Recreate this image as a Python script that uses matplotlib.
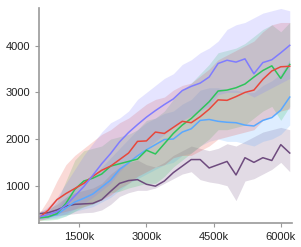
import matplotlib
matplotlib.use("Agg")
import matplotlib.pyplot as plt
import numpy as np

# steps (thousands)
steps = [600, 800, 1000, 1200, 1400, 1600, 1800, 2000, 2200, 2400, 2600, 2800, 3000, 3200, 3400,
         3600, 3800, 4000, 4200, 4400, 4600, 4800, 5000, 5200, 5400, 5600, 5800, 6000, 6200]

# mean returns
violet = [330, 380, 440, 580, 780, 980, 1220, 1470, 1690, 1940, 2140, 2310, 2470, 2610, 2740,
          2860, 3040, 3130, 3200, 3330, 3620, 3690, 3650, 3720, 3400, 3640, 3700, 3850, 4010]
red = [310, 470, 700, 830, 940, 1050, 1200, 1330, 1420, 1560, 1700, 1950, 1960, 2150, 2120,
       2250, 2380, 2350, 2480, 2640, 2840, 2830, 2910, 3000, 3050, 3280, 3460, 3550, 3560]
green = [310, 330, 400, 620, 920, 1100, 1160, 1250, 1420, 1470, 1520, 1570, 1760, 1680, 1900,
         2120, 2300, 2440, 2620, 2800, 3030, 3050, 3100, 3180, 3330, 3470, 3570, 3300, 3600]
skyblue = [310, 330, 380, 520, 650, 730, 820, 970, 1120, 1350, 1490, 1640, 1770, 1880, 1990,
           2000, 2150, 2220, 2400, 2420, 2380, 2360, 2350, 2300, 2280, 2400, 2460, 2620, 2900]
plum = [400, 420, 480, 560, 600, 610, 620, 700, 880, 1050, 1110, 1130, 1030, 990, 1100,
        1280, 1420, 1560, 1560, 1380, 1450, 1520, 1230, 1600, 1500, 1600, 1540, 1880, 1700]

# lower / upper of shaded regions
violet_lo = [280, 300, 330, 400, 500, 620, 750, 900, 1050, 1300, 1500, 1650, 1800, 1950, 2100,
             2250, 2400, 2500, 2600, 2700, 2950, 3000, 3000, 3000, 2900, 3000, 3100, 3200, 3300]
violet_hi = [400, 550, 750, 1050, 1350, 1650, 1900, 2150, 2350, 2450, 2600, 2850, 3000, 3150, 3300,
             3400, 3600, 3700, 3850, 3950, 4100, 4350, 4450, 4500, 4600, 4700, 4750, 4800, 4750]
red_lo = [250, 300, 400, 450, 500, 550, 620, 700, 800, 950, 1050, 1200, 1300, 1400, 1450,
          1600, 1650, 1650, 1750, 1850, 2000, 2050, 2100, 2150, 2200, 2400, 2500, 2600, 2650]
red_hi = [400, 700, 1100, 1450, 1650, 1800, 1950, 2100, 2200, 2350, 2450, 2600, 2750, 2850, 2900,
          3050, 3150, 3200, 3350, 3500, 3700, 3800, 3900, 4000, 4100, 4300, 4450, 4500, 4500]
green_lo = [250, 260, 280, 350, 450, 550, 600, 700, 850, 880, 950, 1000, 1050, 1050, 1200,
            1400, 1550, 1700, 1850, 2000, 2200, 2200, 2250, 2300, 2450, 2600, 2700, 2400, 2700]
green_hi = [350, 450, 650, 1100, 1550, 1750, 1800, 1850, 2000, 2050, 2100, 2200, 2400, 2450, 2600,
            2850, 3050, 3200, 3400, 3600, 3850, 3900, 3950, 4050, 4200, 4350, 4450, 4300, 4500]
skyblue_lo = [270, 280, 300, 350, 450, 500, 550, 650, 750, 900, 1050, 1150, 1250, 1350, 1450,
              1500, 1650, 1700, 1850, 1950, 2000, 1950, 1950, 1900, 1850, 1950, 2000, 2100, 2300]
skyblue_hi = [350, 420, 520, 750, 950, 1100, 1200, 1400, 1600, 1800, 2000, 2200, 2350, 2450, 2550,
              2600, 2750, 2850, 3050, 3100, 3100, 3050, 3050, 3000, 3000, 3150, 3250, 3400, 3700]
plum_lo = [350, 350, 360, 380, 400, 420, 430, 480, 600, 770, 850, 900, 900, 950, 1050,
           1150, 1250, 1300, 1130, 1080, 1050, 1000, 680, 1100, 1150, 1250, 1350, 1500, 1300]
plum_hi = [450, 500, 600, 750, 850, 900, 950, 1050, 1250, 1400, 1500, 1550, 1450, 1400, 1500,
           1650, 1750, 1850, 1800, 1750, 1800, 1900, 1850, 1950, 2050, 2150, 2200, 2250, 2200]

x = np.array(steps)
series = [
    (plum, plum_lo, plum_hi, "#6e4b7e"),
    (skyblue, skyblue_lo, skyblue_hi, "#5aa8ff"),
    (green, green_lo, green_hi, "#2ec45a"),
    (red, red_lo, red_hi, "#e8473b"),
    (violet, violet_lo, violet_hi, "#7f7cff"),
]

plt.rcParams["font.family"] = ["Liberation Sans", "DejaVu Sans"]
fig = plt.figure(figsize=(3.01, 2.47), dpi=100)
ax = fig.add_axes([0.1296, 0.0972, 0.8404, 0.8704])

for mean, lo, hi, c in series:
    ax.fill_between(x, lo, hi, color=c, alpha=0.2, linewidth=0)
for mean, lo, hi, c in series:
    ax.plot(x, mean, color=c, linewidth=1.1)

ax.set_xlim(600, 6250)
ax.set_ylim(200, 4810)
ax.set_xticks([1500, 3000, 4500, 6000])
ax.set_xticklabels(["1500k", "3000k", "4500k", "6000k"])
ax.set_yticks([1000, 2000, 3000, 4000])
for s in ["top", "right"]:
    ax.spines[s].set_visible(False)
for s in ["left", "bottom"]:
    ax.spines[s].set_color("#999999")
    ax.spines[s].set_linewidth(1.2)
ax.tick_params(colors="#999999", labelcolor="#222222", labelsize=8, length=3, width=0.8)

fig.savefig("out.png", dpi=100)
